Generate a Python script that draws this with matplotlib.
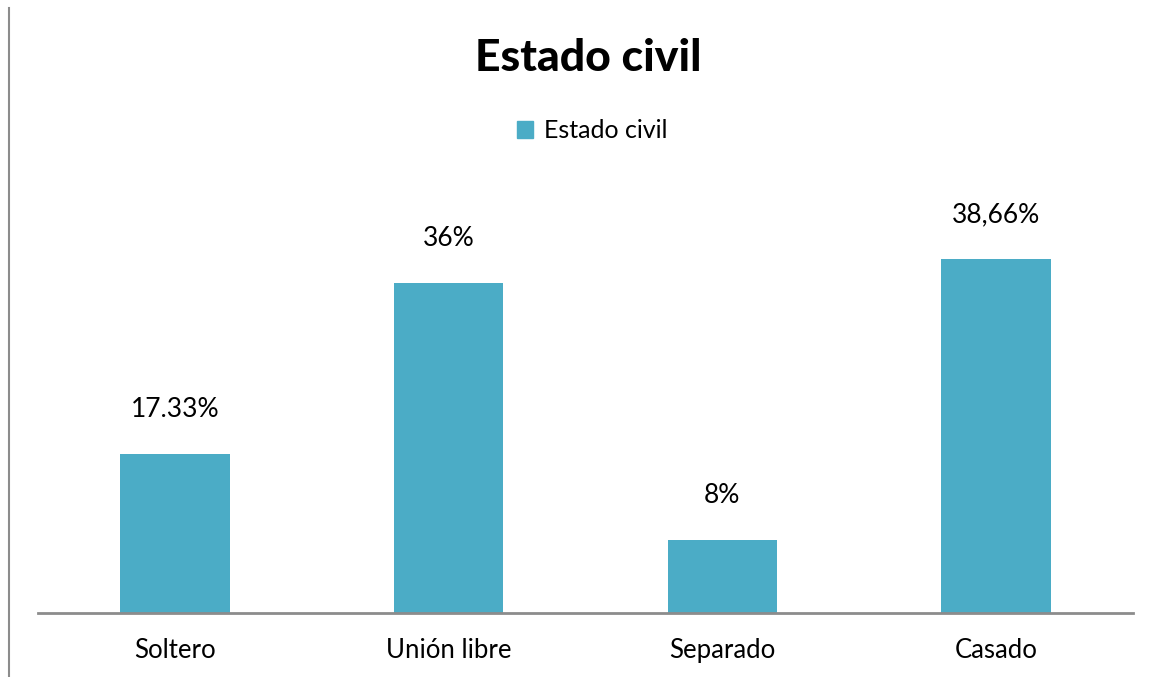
import matplotlib
matplotlib.use("Agg")
import matplotlib.pyplot as plt
from matplotlib.lines import Line2D

categories = ["Soltero", "Unión libre", "Separado", "Casado"]
values = [17.33, 36, 8, 38.66]
value_labels = ["17.33%", "36%", "8%", "38,66%"]
series_name = "Estado civil"
title = "Estado civil"

bar_color = "#4BACC6"
axis_color = "#8C8C8C"

plt.rcParams["font.family"] = ["Lato", "DejaVu Sans"]

W, H = 1158, 677
fig = plt.figure(figsize=(W / 100, H / 100), dpi=100)

# plot area in pixel coordinates
left, right, bottom, top = 38, 1133, 613, 201
ax = fig.add_axes([left / W, 1 - bottom / H, (right - left) / W, (bottom - top) / H])

x = range(len(categories))
bars = ax.bar(x, values, width=0.40, color=bar_color, label=series_name, zorder=2)
ax.set_xlim(-0.5, len(categories) - 0.5)
ax.set_ylim(0, 45)

for rect, lab in zip(bars, value_labels):
    ax.annotate(lab, (rect.get_x() + rect.get_width() / 2, rect.get_height()),
                xytext=(0, 32), textcoords="offset points", ha="center", va="center",
                fontsize=19, color="#000000")

ax.set_xticks(list(x))
ax.set_xticklabels(categories, fontsize=18.5)
ax.tick_params(axis="x", length=0, pad=18)
ax.set_yticks([])
for s in ["top", "right", "left"]:
    ax.spines[s].set_visible(False)
ax.spines["bottom"].set_color(axis_color)
ax.spines["bottom"].set_linewidth(2)

fig.text(588 / W, 1 - 58 / H, title, ha="center", va="center", fontsize=32,
         fontweight="black", color="#000000")

leg = fig.legend(handles=[plt.Rectangle((0, 0), 1, 1, color=bar_color)],
                 labels=[series_name], loc="center", bbox_to_anchor=(592 / W, 1 - 131 / H),
                 frameon=False, fontsize=18, handlelength=0.65, handleheight=0.65,
                 handletextpad=0.45)

# outer frame edge on the left
fig.add_artist(Line2D([9 / W, 9 / W], [0, 1 - 8 / H], color=axis_color, lw=1.5))

fig.savefig("out.png", dpi=100)
